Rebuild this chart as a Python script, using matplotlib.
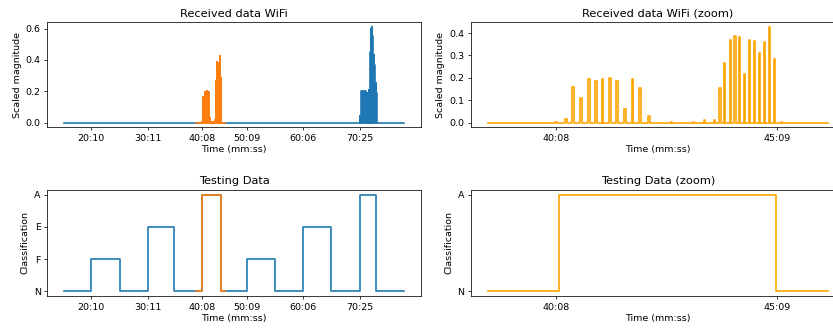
import numpy as np
import matplotlib
matplotlib.use("Agg")
import matplotlib.pyplot as plt

# ---------------- data ----------------
t_start, t_end = 0, 3400
zoom_lo, zoom_hi = 1320, 1610

# WiFi packet spikes (time index, scaled magnitude)
wifi_times_a = [1378.0, 1386.6, 1392.5, 1399.4, 1406.2, 1412.2, 1418.1, 1424.1,
                1430.1, 1436.9, 1443.7, 1449.7, 1457.4, 1477.0,
                1495.5, 1504.6, 1513.7, 1518.0, 1522.2, 1526.7, 1530.8, 1535.0,
                1539.3, 1543.5, 1547.8, 1552.1, 1556.3, 1560.4, 1564.9, 1570.6]
wifi_vals_a = [0.003, 0.016, 0.160, 0.111, 0.194, 0.187, 0.193, 0.200,
               0.188, 0.061, 0.193, 0.153, 0.031, 0.002,
               0.004, 0.012, 0.013, 0.153, 0.267, 0.368, 0.388, 0.381,
               0.216, 0.369, 0.364, 0.310, 0.360, 0.427, 0.286, 0.003]

wifi_times_b = [2963, 2967, 2971, 2975, 2979, 2983, 2987, 2991, 2995, 2999, 3003, 3007,
                3011, 3015, 3019, 3023, 3027, 3031, 3035,
                3045, 3049, 3053, 3057, 3061, 3065, 3069, 3073, 3077, 3081, 3085, 3089,
                3093, 3097, 3101, 3105, 3109, 3113, 3117, 3121, 3125, 3129]
wifi_vals_b = [0.04, 0.15, 0.19, 0.20, 0.20, 0.20, 0.20, 0.20, 0.20, 0.20, 0.20, 0.20,
               0.20, 0.20, 0.20, 0.19, 0.19, 0.15, 0.05,
               0.18, 0.20, 0.21, 0.25, 0.33, 0.45, 0.56, 0.60, 0.61, 0.60, 0.55, 0.50,
               0.46, 0.43, 0.40, 0.37, 0.33, 0.28, 0.25, 0.24, 0.19, 0.05]

# Testing data (activity segments)
seg_starts = [0, 270, 553, 837, 1100, 1381, 1566, 1828, 2110, 2388, 2670, 2960, 3120]
seg_labels = ['N', 'F', 'N', 'E', 'N', 'A', 'N', 'F', 'N', 'E', 'N', 'A', 'N']
classes = ['N', 'F', 'E', 'A']

tick_pos = [270, 837, 1378, 1828, 2388, 2960]
tick_lab = ['20:10', '30:11', '40:08', '50:09', '60:06', '70:25']
zoom_tick_pos = [1378, 1567]
zoom_tick_lab = ['40:08', '45:09']

# ---------------- build series ----------------
spikes = sorted(zip(wifi_times_a + wifi_times_b, wifi_vals_a + wifi_vals_b))
tw, vw = [t_start], [0.0]
for t, v in spikes:
    tw += [t - 0.5, t - 0.5, t + 0.5, t + 0.5]
    vw += [0.0, v, v, 0.0]
tw.append(t_end); vw.append(0.0)
tw = np.array(tw); vw = np.array(vw)
mz = (tw >= zoom_lo) & (tw <= zoom_hi)
tz = np.concatenate([[zoom_lo], tw[mz], [zoom_hi]])
vz = np.concatenate([[0.0], vw[mz], [0.0]])

cls_idx = {c: i for i, c in enumerate(classes)}
ts = np.array(seg_starts + [t_end], dtype=float)
ys = np.array([cls_idx[c] for c in seg_labels] + [cls_idx[seg_labels[-1]]], dtype=float)

def window_steps(lo, hi):
    xs, yv = [lo], [ys[np.searchsorted(ts, lo, side='right') - 1]]
    for x, y in zip(ts, ys):
        if lo < x < hi:
            xs.append(x); yv.append(y)
    xs.append(hi); yv.append(yv[-1])
    return np.array(xs), np.array(yv)

tzs, yzs = window_steps(zoom_lo, zoom_hi)

# ---------------- plot ----------------
DPI = 68
plt.rcParams['lines.linewidth'] = 1.75
fig = plt.figure(figsize=(833 / DPI, 330 / DPI), dpi=DPI)
W, H = 833, 330
def pos(l, t, w, h):
    return [l / W, (H - t - h) / H, w / W, h / H]

ax1 = fig.add_axes(pos(47.3, 22.3, 373.7, 105))
ax2 = fig.add_axes(pos(471, 22.3, 373.7, 105))
ax3 = fig.add_axes(pos(47.3, 190, 373.7, 106))
ax4 = fig.add_axes(pos(471, 190, 373.7, 106))

ax1.plot(tw, vw, color='C0')
ax1.plot(tz, vz, color='C1')
ax1.set_title('Received data WiFi')
ax1.set_ylabel('Scaled magnitude')
ax1.set_xlabel('Time (mm:ss)', labelpad=2)
ax1.set_xticks(tick_pos, tick_lab)

ax2.plot(tz, vz, color='orange')
ax2.set_title('Received data WiFi (zoom)')
ax2.set_ylabel('Scaled magnitude')
ax2.set_xlabel('Time (mm:ss)', labelpad=2)
ax2.set_xticks(zoom_tick_pos, zoom_tick_lab)

ax3.plot(ts, ys, drawstyle='steps-post', color='C0')
ax3.plot(tzs, yzs, drawstyle='steps-post', color='C1')
ax3.set_title('Testing Data')
ax3.set_ylabel('Classification')
ax3.set_xlabel('Time (mm:ss)', labelpad=2)
ax3.set_yticks(range(len(classes)), classes)
ax3.set_xticks(tick_pos, tick_lab)

ax4.plot(tzs, yzs, drawstyle='steps-post', color='orange')
ax4.set_title('Testing Data (zoom)')
ax4.set_ylabel('Classification')
ax4.set_xlabel('Time (mm:ss)', labelpad=2)
ax4.set_yticks([cls_idx['N'], cls_idx['A']], ['N', 'A'])
ax4.set_xticks(zoom_tick_pos, zoom_tick_lab)

fig.savefig('out.png', dpi=DPI)
